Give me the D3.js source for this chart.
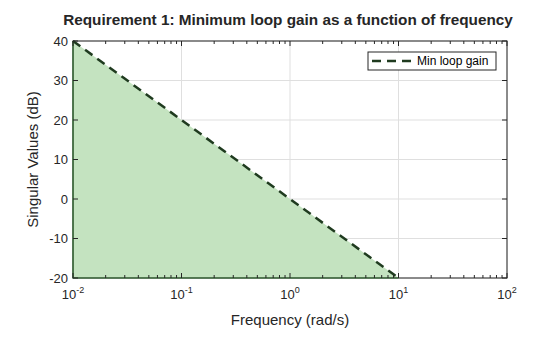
<!DOCTYPE html>
<html><head><meta charset="utf-8">
<script src="https://cdn.jsdelivr.net/npm/d3@7"></script>
<style>body{margin:0;background:#fff}svg{display:block;font-family:"Liberation Sans",Arial,sans-serif}</style>
</head><body><svg id="c" width="560" height="337"></svg>
<script>
const freq = [0.01, 10];
const gainDb = [40, -20];
const xTicks = [0.01, 0.1, 1, 10, 100];
const xTickExp = ["-2", "-1", "0", "1", "2"];
const yTicks = [-20, -10, 0, 10, 20, 30, 40];
const seriesName = "Min loop gain";

const svg = d3.select("#c");
const L = 73, R = 507, T = 41, B = 278;
const x = d3.scaleLog().domain([0.01, 100]).range([L, R]);
const y = d3.scaleLinear().domain([-20, 40]).range([B, T]);

svg.append("rect").attr("x", 0).attr("y", 0).attr("width", 560).attr("height", 337).attr("fill", "#fff");

// grid
const g = svg.append("g");
xTicks.forEach(v => g.append("line").attr("x1", x(v)).attr("x2", x(v)).attr("y1", T).attr("y2", B).attr("stroke", "#dfdfdf").attr("stroke-width", 1));
yTicks.forEach(v => g.append("line").attr("x1", L).attr("x2", R).attr("y1", y(v)).attr("y2", y(v)).attr("stroke", "#dfdfdf").attr("stroke-width", 1));

// fill
const pts = freq.map((f, i) => [x(f), y(gainDb[i])]);
const area = d3.area().x(d => d[0]).y0(y(-20)).y1(d => d[1]);
svg.append("path").attr("d", area(pts)).attr("fill", "#c4e3c0").attr("stroke", "none");

// axes box
svg.append("rect").attr("x", L).attr("y", T).attr("width", R - L).attr("height", B - T).attr("fill", "none").attr("stroke", "#262626").attr("stroke-width", 1);
svg.append("path").attr("d", `M${x(freq[0])},${y(gainDb[0])}V${y(-20)}H${x(freq[1])}`).attr("fill", "none").attr("stroke", "#2d6a2d").attr("stroke-width", 1.2);

// line
svg.append("path").attr("d", d3.line()(pts)).attr("fill", "none").attr("stroke", "#1f3b1f").attr("stroke-width", 2.5).attr("stroke-dasharray", "9,6");

// ticks
const tk = svg.append("g").attr("stroke", "#262626").attr("stroke-width", 1);
const minor = [];
for (let e = -2; e < 2; e++) for (let m = 2; m <= 9; m++) minor.push(m * Math.pow(10, e));
xTicks.forEach(v => {
  tk.append("line").attr("x1", x(v)).attr("x2", x(v)).attr("y1", B).attr("y2", B - 5);
  tk.append("line").attr("x1", x(v)).attr("x2", x(v)).attr("y1", T).attr("y2", T + 5);
});
minor.forEach(v => {
  tk.append("line").attr("x1", x(v)).attr("x2", x(v)).attr("y1", B).attr("y2", B - 3);
  tk.append("line").attr("x1", x(v)).attr("x2", x(v)).attr("y1", T).attr("y2", T + 3);
});
yTicks.forEach(v => {
  tk.append("line").attr("x1", L).attr("x2", L + 5).attr("y1", y(v)).attr("y2", y(v));
  tk.append("line").attr("x1", R).attr("x2", R - 5).attr("y1", y(v)).attr("y2", y(v));
});

// tick labels
const tl = svg.append("g").attr("fill", "#262626").attr("font-size", 13);
xTicks.forEach((v, i) => {
  const t = tl.append("text").attr("x", x(v)).attr("y", B + 21).attr("text-anchor", "middle");
  t.append("tspan").text("10");
  t.append("tspan").attr("font-size", 9).attr("dy", -6).text(xTickExp[i]);
});
yTicks.forEach(v => {
  tl.append("text").attr("x", L - 5).attr("y", y(v)).attr("dy", "0.35em").attr("text-anchor", "end").text(v);
});

// labels
svg.append("text").attr("x", (L + R) / 2).attr("y", 325).attr("text-anchor", "middle").attr("font-size", 15).attr("fill", "#262626").text("Frequency (rad/s)");
svg.append("text").attr("transform", `translate(38,${(T + B) / 2}) rotate(-90)`).attr("text-anchor", "middle").attr("font-size", 15).attr("fill", "#262626").text("Singular Values (dB)");
svg.append("text").attr("x", 288).attr("y", 25).attr("text-anchor", "middle").attr("font-size", 15.3).attr("font-weight", "bold").attr("fill", "#262626").text("Requirement 1: Minimum loop gain as a function of frequency");

// legend
const lg = svg.append("g");
lg.append("rect").attr("x", 368).attr("y", 52).attr("width", 128).attr("height", 18).attr("fill", "#fff").attr("stroke", "#262626").attr("stroke-width", 1);
lg.append("line").attr("x1", 372).attr("x2", 414).attr("y1", 61).attr("y2", 61).attr("stroke", "#1f3b1f").attr("stroke-width", 2.5).attr("stroke-dasharray", "9,6");
lg.append("text").attr("x", 417).attr("y", 61).attr("dy", "0.35em").attr("font-size", 12).attr("fill", "#000").text(seriesName);
</script></body></html>
